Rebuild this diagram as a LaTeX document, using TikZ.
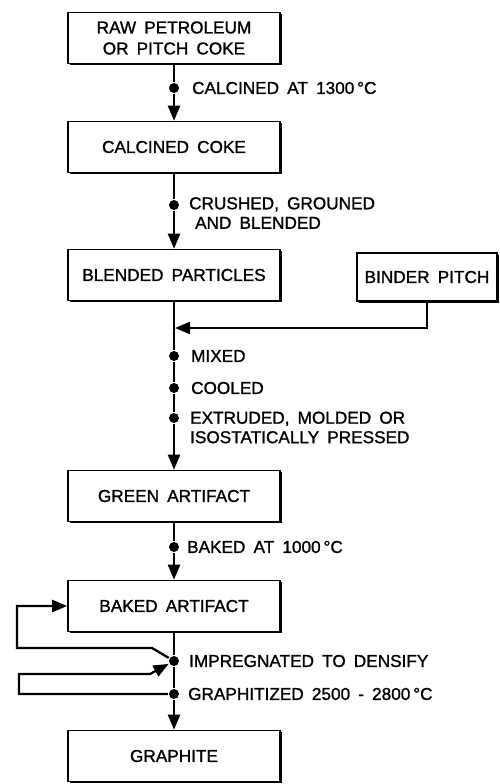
\documentclass[tikz,border=0pt]{standalone}
\usepackage{fontspec}
\setmainfont{Liberation Sans}[WordSpace=1.7, FakeBold=1.2]
\usetikzlibrary{arrows.meta,shadows}

\begin{document}
\begin{tikzpicture}[x=1pt, y=-1pt, line width=2.3pt, line join=miter,
  box/.style={draw, fill=white, line width=1.6pt, minimum width=212pt, minimum height=51pt,
    align=center, font=\fontsize{17.2}{21}\selectfont,
    general shadow={fill=black, shadow xshift=1.8pt, shadow yshift=-1.8pt}},
  dot/.style={circle, fill, inner sep=0pt, minimum size=10pt},
  lbl/.style={anchor=west, align=left, inner sep=0pt, font=\fontsize{17.2}{19.5}\selectfont},
  flow/.style={-{Triangle[length=15pt, width=12pt]}}]

  % ── 主流程的方框（中心 x = 174）──
  \node[box] (raw)      at (174, 38) {RAW PETROLEUM\\OR PITCH COKE};
  \node[box] (calc)     at (174,147) {CALCINED COKE};
  \node[box] (blend)    at (174,275) {BLENDED PARTICLES};
  \node[box, minimum width=140pt, minimum height=48pt] (binder) at (427,277) {BINDER PITCH};
  \node[box] (green)    at (174,496) {GREEN ARTIFACT};
  \node[box] (baked)    at (174,606) {BAKED ARTIFACT};
  \node[box] (graphite) at (174,756) {GRAPHITE};

  % ── 竖线上的工序圆点 ──
  \node[dot] (calcine)    at (174, 88) {};
  \node[dot] (crush)      at (174,205) {};
  \node[dot] (mix)        at (174,356) {};
  \node[dot] (cool)       at (174,388) {};
  \node[dot] (extrude)    at (174,418) {};
  \node[dot] (bake)       at (174,547) {};
  \node[dot] (impreg)     at (174,661) {};
  \node[dot] (graphitize) at (174,694) {};
  \coordinate (join) at (175,328);   % 粘结剂汇入点

  % ── 工序说明 ──
  \node[lbl] (calcine text)    at (191, 88)   {CALCINED AT 1300\,°C};
  \node[lbl] (crush text)      at (188,213)   {CRUSHED, GROUNED\\\hspace*{6pt}AND BLENDED};
  \node[lbl] (mix text)        at (190,356)   {MIXED};
  \node[lbl] (cool text)       at (190,388)   {COOLED};
  \node[lbl] (extrude text)    at (189,427.5) {EXTRUDED, MOLDED OR\\ISOSTATICALLY PRESSED};
  \node[lbl] (bake text)       at (186,547)   {BAKED AT 1000\,°C};
  \node[lbl] (impreg text)     at (188,661)   {IMPREGNATED TO DENSIFY};
  \node[lbl] (graphitize text) at (187,694)   {GRAPHITIZED 2500 - 2800\,°C};

  % ── 主干箭头 ──
  \draw[flow] (raw) -- (calcine) -- (calc);
  \draw[flow] (calc) -- (crush) -- (blend);
  \draw[flow] (blend) -- (mix) -- (cool) -- (extrude) -- (green);
  \draw[flow] (binder.south) |- (join);
  \draw[flow] (green) -- (bake) -- (baked);
  \draw[flow] (baked) -- (impreg) -- (graphitize) -- (graphite);

  % ── 左侧两个回路 ──
  \draw[flow] (impreg) -- (152,648) -- (17,648) |- (baked.west);
  \draw[flow] (graphitize) -- (19,694) -- (19,674) -- (150,674) -- (impreg);

  % 钉死画布
  \pgfresetboundingbox
  \path[use as bounding box] (0,0) rectangle (499,784);
\end{tikzpicture}
\end{document}
